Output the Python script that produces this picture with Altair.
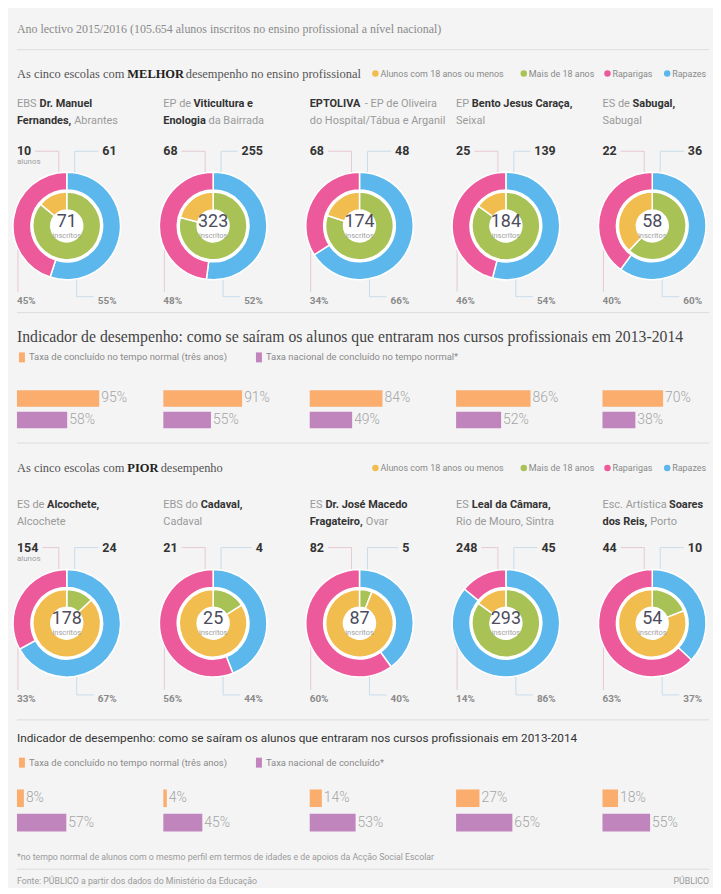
import unicodedata
import altair as alt
import pandas as pd

# ------------------------------------------------------------------ texts
header_note = "Ano lectivo 2015/2016 (105.654 alunos inscritos no ensino profissional a nível nacional)"
best_title = [("As cinco escolas com ", 0), ("MELHOR", 1), (" desempenho no ensino profissional", 0)]
worst_title = [("As cinco escolas com ", 0), ("PIOR", 1), (" desempenho", 0)]
indicator_title = "Indicador de desempenho: como se saíram os alunos que entraram nos cursos profissionais em 2013-2014"
donut_legend = ["Alunos com 18 anos ou menos", "Mais de 18 anos", "Raparigas", "Rapazes"]
bar_legend_best = ["Taxa de concluído no tempo normal (três anos)", "Taxa nacional de concluído no tempo normal*"]
bar_legend_worst = ["Taxa de concluído no tempo normal (três anos)", "Taxa nacional de concluído*"]
footnote = "*no tempo normal de alunos com o mesmo perfil em termos de idades e de apoios da Acção Social Escolar"
source = "Fonte: PÚBLICO a partir dos dados do Ministério da Educação"
credit = "PÚBLICO"

best_line1 = [[("EBS ", 0), ("Dr. Manuel", 1)], [("EP de ", 0), ("Viticultura e", 1)],
              [("EPTOLIVA", 1), (" - EP de Oliveira", 0)], [("EP ", 0), ("Bento Jesus Caraça,", 1)],
              [("ES de ", 0), ("Sabugal,", 1)]]
best_line2 = [[("Fernandes,", 1), (" Abrantes", 0)], [("Enologia", 1), (" da Bairrada", 0)],
              [("do Hospital/Tábua e Arganil", 0)], [("Seixal", 0)], [("Sabugal", 0)]]
worst_line1 = [[("ES de ", 0), ("Alcochete,", 1)], [("EBS do ", 0), ("Cadaval,", 1)],
               [("ES ", 0), ("Dr. José Macedo", 1)], [("ES ", 0), ("Leal da Câmara,", 1)],
               [("Esc. Artística ", 0), ("Soares", 1)]]
worst_line2 = [[("Alcochete", 0)], [("Cadaval", 0)], [("Fragateiro,", 1), (" Ovar", 0)],
               [("Rio de Mouro, Sintra", 0)], [("dos Reis,", 1), (" Porto", 0)]]

# ------------------------------------------------------------------ values
best_young_n = [10, 68, 68, 25, 22]
best_older_n = [61, 255, 48, 139, 36]
best_total = [71, 323, 174, 184, 58]
best_girls_pct = [45, 48, 34, 46, 40]
best_boys_pct = [55, 52, 66, 54, 60]
best_young_share = [14, 21, 20, 15, 38]     # inner ring
best_older_share = [86, 79, 80, 85, 62]
best_rate = [95, 91, 84, 86, 70]
best_nat_rate = [58, 55, 49, 52, 38]

worst_young_n = [154, 21, 82, 248, 44]
worst_older_n = [24, 4, 5, 45, 10]
worst_total = [178, 25, 87, 293, 54]
worst_girls_pct = [33, 56, 60, 14, 63]
worst_boys_pct = [67, 44, 40, 86, 37]
worst_young_share = [87, 84, 94, 15, 81]
worst_older_share = [13, 16, 6, 85, 19]
worst_rate = [8, 4, 14, 27, 18]
worst_nat_rate = [57, 45, 53, 65, 55]

# ------------------------------------------------------------------ style
BG = "#f4f4f4"
YELLOW, GREEN, PINK, BLUE = "#f2bd4f", "#a9c255", "#ec5a9c", "#5cb8ec"
ORANGE, PURPLE = "#fbad6e", "#c185be"
SANS, SERIF = "Roboto", "Liberation Serif"
RULE = "#dddddd"
one = pd.DataFrame({"k": [0]})


def _b(c):
    return unicodedata.normalize("NFD", c)[0]


def sans_w(c):
    c = _b(c)
    if c == " ":
        return 0.25
    if c in "ijlI.,:;'|!":
        return 0.24
    if c in "ftr()":
        return 0.34
    if c == "-":
        return 0.28
    if c in "/*":
        return 0.42
    if c.isdigit():
        return 0.56
    if c == "%":
        return 0.73
    if c in "mM":
        return 0.87
    if c == "w":
        return 0.75
    if c == "W":
        return 0.88
    if c.islower():
        return 0.51 if c in "cekszxvy" else 0.55
    if c.isupper():
        return 0.57 if c in "EFLJ" else (0.62 if c in "BPS" else 0.67)
    return 0.5


def serif_w(c, bold):
    c = _b(c)
    if c == " ":
        return 0.25
    if c in "ijlt.,:;'!":
        return 0.28
    if c in "fr()-":
        return 0.33
    if c == "s":
        return 0.39
    if c in "acegz":
        return 0.44
    if c == "m":
        return 0.78
    if c == "w":
        return 0.72
    if c.isdigit() or c.islower():
        return 0.5
    if c.isupper():
        base = {"M": 0.89, "I": 0.33, "E": 0.61, "L": 0.61, "T": 0.61, "P": 0.56, "S": 0.56}.get(c, 0.72)
        return base * (1.04 if bold else 1.0)
    return 0.5


def tw(s, size, serif=False, bold=False):
    if serif:
        return sum(serif_w(c, bold) for c in s) * size
    return sum(sans_w(c) for c in s) * size * (1.02 if bold else 1.0)


def txt(s, x, y, size, color="#888", font=SANS, weight="normal", align="left", baseline="middle"):
    return alt.Chart(one).mark_text(
        text=s, fontSize=size, font=font, fontWeight=weight, color=color,
        align=align, baseline=baseline
    ).encode(x=alt.value(x), y=alt.value(y))


def rich(segs, x, y, size, serif, bold_color, norm_color):
    out, cx = [], x
    font = SERIF if serif else SANS
    for s, b in segs:
        lead = len(s) - len(s.lstrip(" "))
        core = s.strip(" ")
        px = cx + tw(" " * lead, size, serif, b)
        out.append(txt(core, px, y, size, color=bold_color if b else norm_color, font=font,
                       weight="bold" if b else "normal"))
        cx += tw(s, size, serif, b)
    return out


def hrule(x1, x2, y, color=RULE, w=1):
    return alt.Chart(one).mark_rule(color=color, strokeWidth=w).encode(
        x=alt.value(x1), x2=alt.value(x2), y=alt.value(y))


def vrule(x, y1, y2, color=RULE, w=1):
    return alt.Chart(one).mark_rule(color=color, strokeWidth=w).encode(
        x=alt.value(x), y=alt.value(y1), y2=alt.value(y2))


def anchor():
    # invisible mark that gives every section the same left edge
    return alt.Chart(one).mark_rule(opacity=0).encode(
        x=alt.value(-5), y=alt.value(1), y2=alt.value(2))


def dot(x, y, color):
    return alt.Chart(one).mark_circle(size=42, color=color, opacity=1).encode(
        x=alt.value(x), y=alt.value(y))


def swatch(x, y, color):
    return alt.Chart(one).mark_rect(color=color).encode(
        x=alt.value(x), x2=alt.value(x + 6), y=alt.value(y - 5), y2=alt.value(y + 5))


FULLW = 688
COLOR_SCALE = alt.Scale(domain=donut_legend, range=[YELLOW, GREEN, PINK, BLUE])


def donut_legend_layers(y):
    xs = [360, 509, 593, 653]
    cols = [YELLOW, GREEN, PINK, BLUE]
    out = []
    for x, c, lab in zip(xs, cols, donut_legend):
        out.append(dot(x, y, c))
        out.append(txt(lab, x + 5, y, 9, color="#8a8a8a"))
    return out


def bar_legend_layers(y, labels):
    return [swatch(2, y, ORANGE), txt(labels[0], 12, y, 9.5, color="#8a8a8a"),
            swatch(240, y, PURPLE), txt(labels[1], 250, y, 9.5, color="#8a8a8a")]


def block(layers, h):
    return alt.layer(anchor(), *layers).properties(width=FULLW, height=h)


# ------------------------------------------------------------------ donut panels
def donut_panel(i, l1, l2, yn, on, tot, girls, boys, ysh, osh, g):
    name_y1, name_y2, num_y, al_y, cy, pct_y, h = g
    layers = [anchor()]
    layers += rich(l1, 0, name_y1, 11, False, "#333333", "#9a9a9a")
    layers += rich(l2, 0, name_y2, 11, False, "#333333", "#9a9a9a")
    R = 54
    top = cy - R
    ls, rs = str(yn), str(on)
    layers.append(txt(ls, 0, num_y, 12.5, color="#333333", weight="bold"))
    layers.append(txt(rs, 100, num_y, 12.5, color="#333333", weight="bold", align="right"))
    if i == 0:
        layers.append(txt("alunos", 0, al_y, 8, color="#a0a0a0"))
    lw = tw(ls, 12.5, bold=True) + 4
    rw = tw(rs, 12.5, bold=True) + 4
    layers += [hrule(lw, 42, num_y, "#e6c9d3"), vrule(42, num_y, top + 3, "#e6c9d3"),
               hrule(58, 100 - rw, num_y, "#c9dcea"), vrule(58, num_y, top + 3, "#c9dcea")]
    layers.append(txt(f"{girls}%", 0, pct_y, 10, color="#8a8a8a", weight="bold"))
    layers.append(txt(f"{boys}%", 100, pct_y, 10, color="#8a8a8a", weight="bold", align="right"))
    layers += [vrule(1, cy + 5, pct_y - 9, "#e6c9d3"),
               vrule(60, cy + R - 2, pct_y - 4, "#c9dcea"),
               hrule(60, 100 - tw(f"{boys}%", 10, bold=True) - 4, pct_y - 4, "#c9dcea")]
    disc = pd.DataFrame({"v": [100]})
    outer = pd.DataFrame({"grp": ["Rapazes", "Raparigas"], "v": [boys, girls], "o": [1, 2]})
    inner = pd.DataFrame({"grp": ["Mais de 18 anos", "Alunos com 18 anos ou menos"],
                          "v": [osh, ysh], "o": [1, 2]})
    layers.append(alt.Chart(disc).mark_arc(outerRadius=35.5, innerRadius=0, color="white").encode(
        theta=alt.Theta("v:Q"), y=alt.value(cy)))
    layers.append(alt.Chart(inner).mark_arc(outerRadius=34, innerRadius=16, stroke="white",
                                            strokeWidth=1.5).encode(
        theta=alt.Theta("v:Q", stack=True),
        color=alt.Color("grp:N", scale=COLOR_SCALE, legend=None),
        order=alt.Order("o:Q"), y=alt.value(cy)))
    layers.append(alt.Chart(outer).mark_arc(outerRadius=R, innerRadius=36, stroke="white",
                                            strokeWidth=1.5).encode(
        theta=alt.Theta("v:Q", stack=True),
        color=alt.Color("grp:N", scale=COLOR_SCALE, legend=None),
        order=alt.Order("o:Q"), y=alt.value(cy)))
    layers.append(txt(str(tot), 50, cy - 4, 18, color="#4d4d5e", align="center"))
    layers.append(txt("inscritos", 50, cy + 10, 7.5, color="#a0a0a0", align="center"))
    return alt.layer(*layers).properties(width=100, height=h).resolve_scale(theta="independent")


def donut_row(l1s, l2s, yns, ons, tots, girls, boys, yshs, oshs, g):
    panels = [donut_panel(i, l1s[i], l2s[i], yns[i], ons[i], tots[i], girls[i], boys[i],
                          yshs[i], oshs[i], g) for i in range(5)]
    return alt.hconcat(*panels, spacing=47, bounds="flush")


# ------------------------------------------------------------------ bar panels
BAR_SCALE = alt.Scale(domain=["escola", "nacional"], range=[ORANGE, PURPLE])


def bar_panel(rate, nat, h, pi, po):
    df = pd.DataFrame({"series": ["escola", "nacional"], "v": [rate, nat]})
    base = alt.Chart(df).transform_calculate(lab="datum.v + '%'")
    y = alt.Y("series:N", axis=None,
              scale=alt.Scale(domain=["escola", "nacional"], paddingInner=pi, paddingOuter=po))
    x = alt.X("v:Q", axis=None, scale=alt.Scale(domain=[0, 115], nice=False))
    bars = base.mark_bar().encode(
        x=x, y=y, fill=alt.Fill("series:N", scale=BAR_SCALE, legend=None))
    labels = base.mark_text(align="left", dx=2, fontSize=14, font=SANS, fontWeight=300,
                            color="#a5a5a5").encode(x=x, y=y, text="lab:N")
    return alt.layer(anchor(), bars, labels).properties(width=100, height=h)


def bar_row(rates, nats, h, pi, po):
    return alt.hconcat(*[bar_panel(rates[i], nats[i], h, pi, po) for i in range(5)],
                       spacing=47, bounds="flush")


# ------------------------------------------------------------------ sections
A = block([txt(header_note, 0, 19, 12, color="#8a8a8a", font=SERIF),
           hrule(0, 695, 40)]
          + rich(best_title, 0, 64, 12.5, True, "#222222", "#555555")
          + donut_legend_layers(64), 82)

B = donut_row(best_line1, best_line2, best_young_n, best_older_n, best_total,
              best_girls_pct, best_boys_pct, best_young_share, best_older_share,
              (13, 30, 60, 71, 135, 210, 218))

C = block([hrule(0, 695, 4),
           txt(indicator_title, 0, 29, 15.8, color="#444444", font=SERIF)]
          + bar_legend_layers(49, bar_legend_best), 78)

D = bar_row(best_rate, best_nat_rate, 46, 0.23, 0.18)

E = block([hrule(0, 695, 11)]
          + rich(worst_title, 0, 36, 12.5, True, "#222222", "#555555")
          + donut_legend_layers(36), 52)

F = donut_row(worst_line1, worst_line2, worst_young_n, worst_older_n, worst_total,
              worst_girls_pct, worst_boys_pct, worst_young_share, worst_older_share,
              (21, 38, 64, 75, 140, 216, 220))

G = block([hrule(0, 695, 16),
           txt(indicator_title, 0, 34, 11.8, color="#333333")]
          + bar_legend_layers(59, bar_legend_worst), 82)

H = bar_row(worst_rate, worst_nat_rate, 50, 0.28, 0.16)

I = block([txt(footnote, 0, 22, 8.8, color="#9a9a9a"),
           hrule(0, 695, 34),
           txt(source, 0, 46, 8.8, color="#9a9a9a"),
           txt(credit, 695, 46, 8.8, color="#9a9a9a", align="right")], 44)

chart = alt.vconcat(A, B, C, D, E, F, G, H, I, spacing=0).properties(
    padding={"left": 2, "top": 0, "right": 3, "bottom": 0},
    background=BG,
).resolve_scale(color="independent", fill="independent").configure_view(stroke=None)

chart.save("out.html", embed_options={"renderer": "svg", "actions": False})
